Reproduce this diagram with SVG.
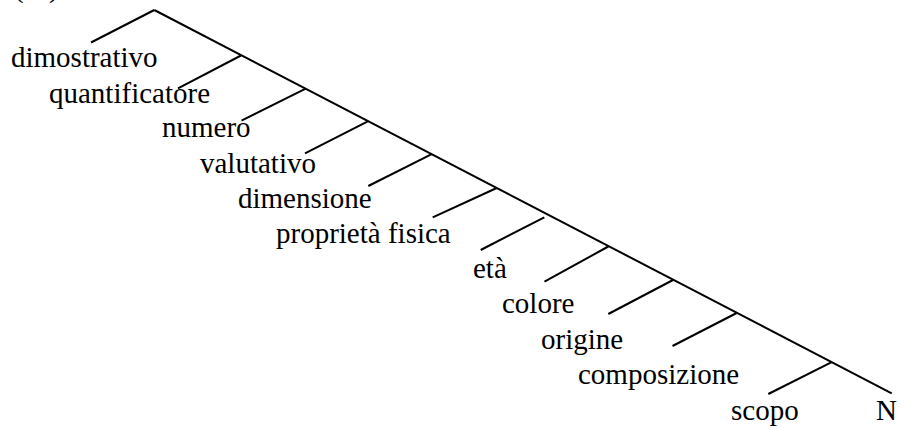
<svg xmlns="http://www.w3.org/2000/svg" width="905" height="428" viewBox="0 0 905 428">
  <style>
    .lbl { font-family: "Liberation Serif", "Times New Roman", serif; font-size: 29px; fill: #000; }
    .edge { stroke: #000; stroke-width: 2; stroke-linecap: butt; fill: none; }
  </style>
  <rect width="905" height="428" fill="#fff"/>

  <!-- tree branches -->
  <g id="connectors">
    <!-- spine down to the head noun -->
    <line class="edge" x1="154.3" y1="10" x2="891.7" y2="393.3"/>
    <line class="edge" x1="154.3" y1="10" x2="91" y2="42.5"/>
    <line class="edge" x1="241" y1="55.5" x2="178" y2="88.3"/>
    <line class="edge" x1="305.7" y1="88.7" x2="241.5" y2="120.7"/>
    <line class="edge" x1="368.3" y1="121.2" x2="305" y2="153.3"/>
    <line class="edge" x1="431.7" y1="154.2" x2="368.3" y2="186"/>
    <line class="edge" x1="496.7" y1="188" x2="432.7" y2="217.3"/>
    <line class="edge" x1="544.3" y1="217.3" x2="480.7" y2="250"/>
    <line class="edge" x1="608.3" y1="246.5" x2="544.5" y2="281.7"/>
    <line class="edge" x1="673" y1="280" x2="608.3" y2="314"/>
    <line class="edge" x1="736.7" y1="313" x2="672.5" y2="346"/>
    <line class="edge" x1="831.7" y1="362.1" x2="768.3" y2="394"/>
  </g>

  <g id="top">
    <text class="lbl" y="-3"><tspan x="14">(</tspan><tspan x="49">)</tspan></text>
  </g>
  <g id="n-dimostrativo"><text class="lbl" x="11" y="67">dimostrativo</text></g>
  <g id="n-quantificatore"><text class="lbl" x="49" y="103">quantificatore</text></g>
  <g id="n-numero"><text class="lbl" x="162" y="137">numero</text></g>
  <g id="n-valutativo"><text class="lbl" x="200" y="173">valutativo</text></g>
  <g id="n-dimensione"><text class="lbl" x="238" y="208">dimensione</text></g>
  <g id="n-proprieta-fisica"><text class="lbl" x="276" y="243">proprietà fisica</text></g>
  <g id="n-eta"><text class="lbl" x="473" y="278">età</text></g>
  <g id="n-colore"><text class="lbl" x="502" y="313">colore</text></g>
  <g id="n-origine"><text class="lbl" x="541" y="349">origine</text></g>
  <g id="n-composizione"><text class="lbl" x="578" y="384">composizione</text></g>
  <g id="n-scopo"><text class="lbl" x="731" y="420">scopo</text></g>
  <g id="n-N"><text class="lbl" x="876" y="420">N</text></g>
</svg>
